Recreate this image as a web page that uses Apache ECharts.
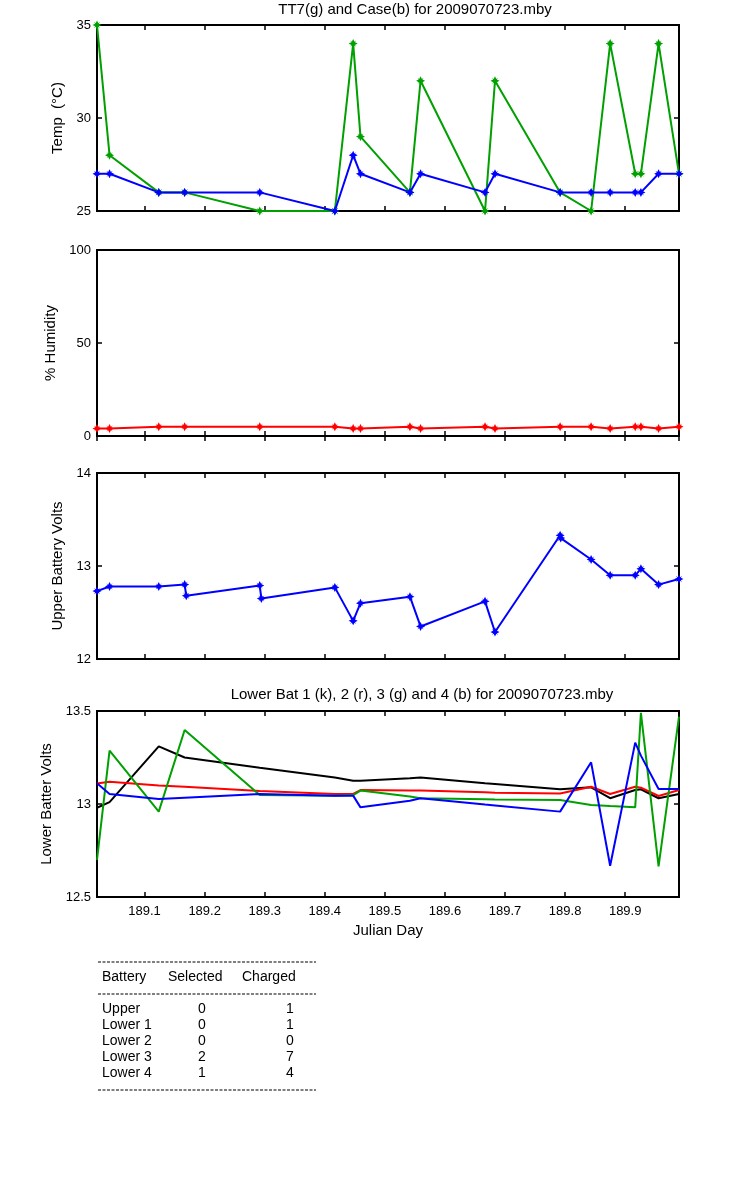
<!DOCTYPE html>
<html>
<head>
<meta charset="utf-8">
<script src="https://cdn.jsdelivr.net/npm/echarts@6/dist/echarts.min.js"></script>
<style>
  html, body { margin: 0; padding: 0; background: #fff; }
  #chart { width: 750px; height: 1200px; }
</style>
</head>
<body>
<div id="chart"></div>
<script>
// Julian day of each sample (temperature, humidity, lower batteries)
const times = [189.0208, 189.0417, 189.1236, 189.1667, 189.2917, 189.4167, 189.4472, 189.4594,
  189.5417, 189.5594, 189.6667, 189.6833, 189.7917, 189.8433, 189.875, 189.9167, 189.9262,
  189.9556, 189.9896];
// upper battery has a few doubled readings
const batTimes = [189.0208, 189.0417, 189.1236, 189.1667, 189.1694, 189.2917, 189.2944, 189.4167,
  189.4472, 189.4594, 189.5417, 189.5594, 189.6667, 189.6833, 189.7917, 189.7927, 189.8433,
  189.875, 189.9167, 189.9262, 189.9556, 189.9896];

const tt7Temp = [35, 28, 26, 26, 25, 25, 34, 29, 26, 32, 25, 32, 26, 25, 34, 27, 27, 34, 27];
const caseTemp = [27, 27, 26, 26, 26, 25, 28, 27, 26, 27, 26, 27, 26, 26, 26, 26, 26, 27, 27];
const humidity = [4, 4, 5, 5, 5, 5, 4, 4, 5, 4, 5, 4, 5, 5, 4, 5, 5, 4, 5];
const upperVolts = [12.73, 12.78, 12.78, 12.80, 12.68, 12.79, 12.65, 12.77, 12.41, 12.60, 12.67,
  12.35, 12.62, 12.29, 13.33, 13.30, 13.07, 12.90, 12.90, 12.97, 12.80, 12.86];
const lower1 = [12.98, 13.01, 13.31, 13.25, 13.195, 13.143, 13.125, 13.125, 13.138, 13.142, 13.111,
  13.108, 13.079, 13.09, 13.031, 13.075, 13.079, 13.031, 13.054];
const lower2 = [13.11, 13.12, 13.10, 13.093, 13.07, 13.054, 13.054, 13.075, 13.073, 13.072, 13.063,
  13.061, 13.057, 13.093, 13.054, 13.093, 13.088, 13.043, 13.075];
const lower3 = [12.70, 13.287, 12.959, 13.398, 13.048, 13.045, 13.048, 13.072, 13.04, 13.031, 13.025,
  13.024, 13.022, 12.995, 12.989, 12.982, 13.49, 12.665, 13.47];
const lower4 = [13.111, 13.054, 13.027, 13.034, 13.054, 13.045, 13.045, 12.982, 13.018, 13.031, 12.997,
  12.992, 12.959, 13.224, 12.668, 13.33, 13.26, 13.081, 13.081];

// y scales: [min, max, interval]
const tempAxis = [25, 35, 5];
const humAxis = [0, 100, 50];
const upperAxis = [12, 14, 1];
const lowerAxis = [12.5, 13.5, 0.5];

const batteryNames = ['Upper', 'Lower 1', 'Lower 2', 'Lower 3', 'Lower 4'];
const selectedCounts = [0, 0, 0, 2, 1];
const chargedCounts = [1, 1, 0, 7, 4];

const FONT = '"Liberation Sans", Arial, sans-serif';
const GREEN = '#00a000';
const BLUE = '#0000ff';
const RED = '#ff0000';
const STAR = 'path://M0,-10 L3,-4 L7,-7 L4,-3 L10,0 L4,3 L7,7 L3,4 L0,10 L-3,4 L-7,7 L-4,3 L-10,0 L-4,-3 L-7,-7 L-3,-4 Z';

const chart = echarts.init(document.getElementById('chart'));

function zip(xs, ys) {
  return xs.map((x, i) => [x, ys[i]]);
}

const panels = [
  { top: 25, range: tempAxis, name: 'Temp  (°C)', gap: 30 },
  { top: 250, range: humAxis, name: '% Humidity', gap: 35 },
  { top: 473, range: upperAxis, name: 'Upper Battery Volts', gap: 30 },
  { top: 711, range: lowerAxis, name: 'Lower Batter Volts', gap: 40 }
];

const grids = [], xAxes = [], yAxes = [];
const tick = { show: true, inside: true, length: 5, lineStyle: { color: '#000', width: 1.5 } };

panels.forEach((p, i) => {
  const last = i === panels.length - 1;
  grids.push({ left: 97, right: 71, top: p.top, height: 186, show: true,
    borderColor: '#000', borderWidth: 2, containLabel: false });
  ['bottom', 'top'].forEach(pos => {
    const showLab = last && pos === 'bottom';
    xAxes.push({
      type: 'value', gridIndex: i, position: pos,
      min: times[0], max: times[times.length - 1],
      minInterval: 0.1, maxInterval: 0.1, splitNumber: 10,
      axisLine: { show: false }, axisTick: tick, splitLine: { show: false },
      axisLabel: { show: showLab, showMinLabel: false, showMaxLabel: false, margin: 8,
        color: '#000', fontSize: 13, fontFamily: FONT,
        formatter: v => v.toFixed(1) },
      name: showLab ? 'Julian Day' : '', nameLocation: 'middle', nameGap: 26,
      nameTextStyle: { color: '#000', fontSize: 15, fontFamily: FONT }
    });
  });
  ['left', 'right'].forEach(pos => {
    yAxes.push({
      type: 'value', gridIndex: i, position: pos,
      min: p.range[0], max: p.range[1], interval: p.range[2],
      axisLine: { show: false }, axisTick: tick, splitLine: { show: false },
      axisLabel: { show: pos === 'left', margin: 6, color: '#000', fontSize: 13, fontFamily: FONT },
      name: pos === 'left' ? p.name : '', nameLocation: 'middle', nameGap: p.gap,
      nameTextStyle: { color: '#000', fontSize: 15, fontFamily: FONT }
    });
  });
});

function line(grid, xs, ys, color, marked) {
  return {
    type: 'line', xAxisIndex: grid * 2, yAxisIndex: grid * 2,
    data: zip(xs, ys),
    symbol: marked ? STAR : 'none', symbolSize: 9, showSymbol: marked,
    lineStyle: { color: color, width: 2 }, itemStyle: { color: color },
    animation: false, silent: true
  };
}

const series = [
  line(0, times, tt7Temp, GREEN, true),
  line(0, times, caseTemp, BLUE, true),
  line(1, times, humidity, RED, true),
  line(2, batTimes, upperVolts, BLUE, true),
  line(3, times, lower1, '#000', false),
  line(3, times, lower2, RED, false),
  line(3, times, lower3, GREEN, false),
  line(3, times, lower4, BLUE, false)
];

// summary table below the plots
const graphic = [
  { type: 'text', style: { text: 'TT7(g) and Case(b) for 2009070723.mby', x: 415, y: 2,
    textAlign: 'center', textVerticalAlign: 'top', font: '15px ' + FONT, fill: '#000' } },
  { type: 'text', style: { text: 'Lower Bat 1 (k), 2 (r), 3 (g) and 4 (b) for 2009070723.mby', x: 422, y: 687,
    textAlign: 'center', textVerticalAlign: 'top', font: '15px ' + FONT, fill: '#000' } }
];
[962, 994, 1090].forEach(y => {
  graphic.push({ type: 'line', shape: { x1: 98, y1: y, x2: 316, y2: y },
    style: { stroke: '#000', lineWidth: 1, lineDash: [3, 1.5] } });
});
[['Battery', 102, 'left'], ['Selected', 168, 'left'], ['Charged', 242, 'left']].forEach(h => {
  graphic.push({ type: 'text', style: { text: h[0], x: h[1], y: 977, textAlign: h[2],
    textVerticalAlign: 'middle', font: '14px ' + FONT, fill: '#000' } });
});
batteryNames.forEach((n, i) => {
  const y = 1009 + i * 16;
  graphic.push({ type: 'text', style: { text: n, x: 102, y: y, textAlign: 'left',
    textVerticalAlign: 'middle', font: '14px ' + FONT, fill: '#000' } });
  graphic.push({ type: 'text', style: { text: String(selectedCounts[i]), x: 202, y: y, textAlign: 'center',
    textVerticalAlign: 'middle', font: '14px ' + FONT, fill: '#000' } });
  graphic.push({ type: 'text', style: { text: String(chargedCounts[i]), x: 290, y: y, textAlign: 'center',
    textVerticalAlign: 'middle', font: '14px ' + FONT, fill: '#000' } });
});

chart.setOption({
  backgroundColor: '#fff',
  animation: false,
  grid: grids,
  xAxis: xAxes,
  yAxis: yAxes,
  series: series,
  graphic: graphic
});
</script>
</body>
</html>
